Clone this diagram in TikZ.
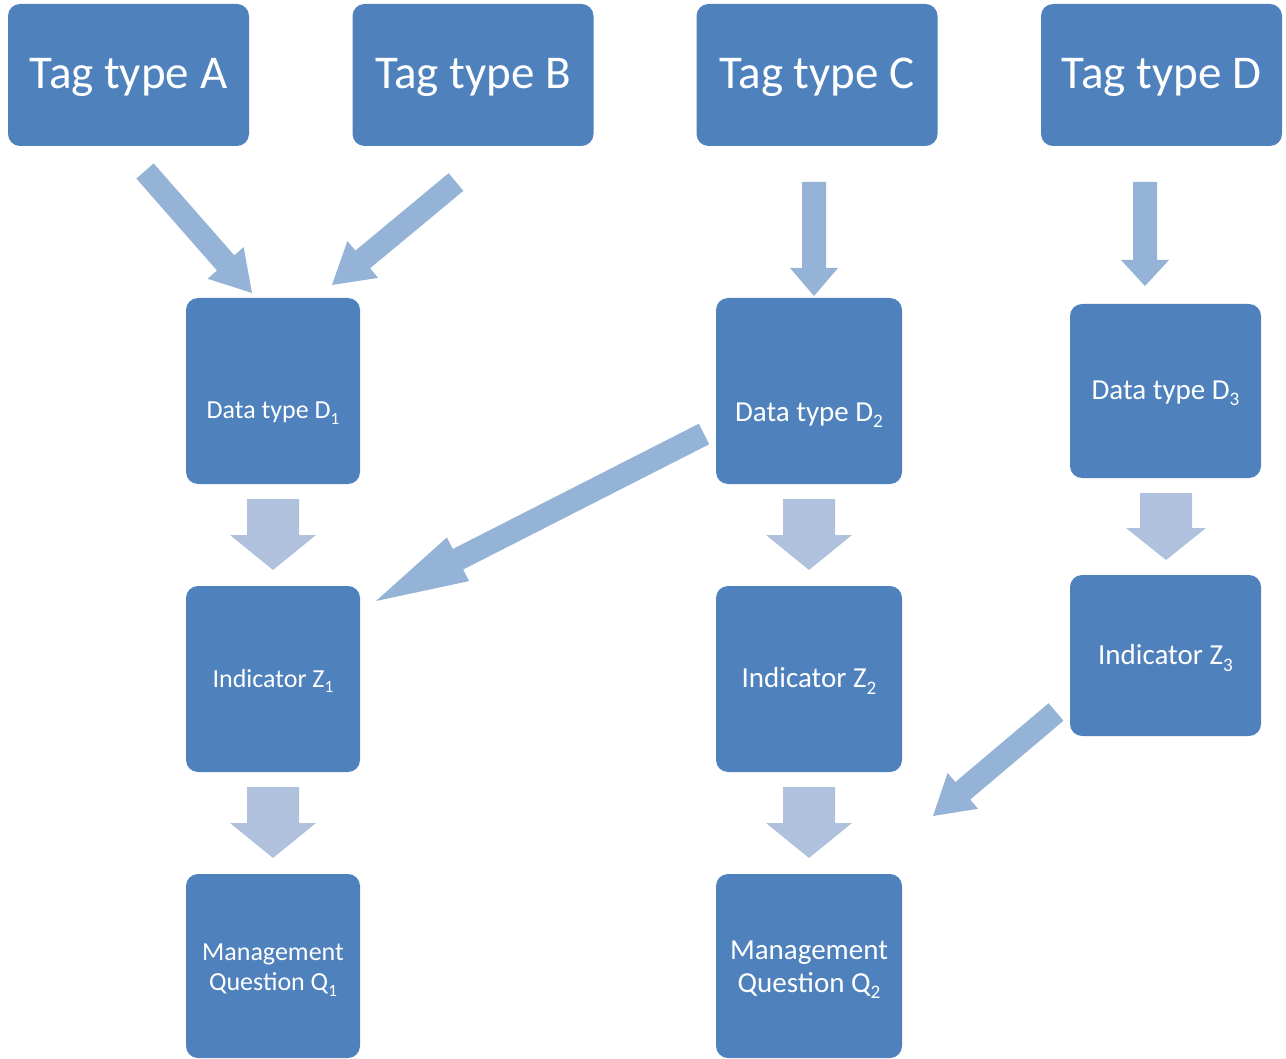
\documentclass[tikz,border=0pt]{standalone}
\usepackage{fontspec}
\setmainfont{Carlito}
\usetikzlibrary{calc}
\definecolor{boxblue}{HTML}{4F81BD}
\definecolor{thinarr}{HTML}{95B3D7}
\definecolor{blockarr}{HTML}{B0C1DE}
\newcommand\subs[1]{\raisebox{-0.22em}{\scalebox{0.66}{#1}}}
\newcommand\fatarrow[7]{%
  \coordinate (#7b) at ($(#3)!#6!(#2)$);
  \fill[#1] ($(#2)!#4!90:(#3)$) -- ($(#7b)!#4!90:(#3)$) -- ($(#7b)!#5!90:(#3)$) -- (#3)
    -- ($(#7b)!#5!-90:(#3)$) -- ($(#7b)!#4!-90:(#3)$) -- ($(#2)!#4!-90:(#3)$) -- cycle;}
\begin{document}
\begin{tikzpicture}[x=1pt,y=-1pt,
  bx/.style={rectangle, rounded corners=12pt, fill=boxblue, inner sep=0pt},
  tx/.style={text=white, inner sep=0pt, align=center},
  tagtx/.style={tx, font=\fontsize{47}{50}\selectfont},
  smtx/.style={tx, font=\fontsize{26}{30}\selectfont},
  bgtx/.style={tx, font=\fontsize{29}{33}\selectfont},
  tagbox/.style={bx, minimum width=241pt, minimum height=142pt},
  colA/.style={bx, minimum width=174pt, minimum height=186pt},
  colB/.style={bx, minimum width=186pt, minimum height=186pt},
]
\useasboundingbox (0,0) rectangle (1286,1059);
% tag boxes
\node[tagbox] (tA) at (128.5,75) {};
\node[tagbox] (tB) at (473,75) {};
\node[tagbox] (tC) at (817,75) {};
\node[tagbox] (tD) at (1161.5,75) {};
\node[tagtx] (tAt) at (128.5,77) {Tag type A};
\node[tagtx] (tBt) at (473,77) {Tag type B};
\node[tagtx] (tCt) at (817,77) {Tag type C};
\node[tagtx] (tDt) at (1161.5,77) {Tag type D};
% column 1
\node[colA] (d1) at (273,391) {};
\node[colA] (z1) at (273,679) {};
\node[colA, minimum height=184pt] (q1) at (273,966) {};
\node[smtx] (d1t) at (273,413) {Data type D\subs{1}};
\node[smtx] (z1t) at (273,681) {Indicator Z\subs{1}};
\node[smtx] (q1t) at (273,970) {Management\\Question Q\subs{1}};
% column 2
\node[colB] (d2) at (809,391) {};
\node[colB] (z2) at (809,679) {};
\node[colB, minimum height=184pt] (q2) at (809,966) {};
\node[bgtx] (d2t) at (809,415) {Data type D\subs{2}};
\node[bgtx] (z2t) at (809,681) {Indicator Z\subs{2}};
\node[bgtx] (q2t) at (809,970) {Management\\Question Q\subs{2}};
% column 3
\node[bx, minimum width=191pt, minimum height=174pt] (d3) at (1165.5,391) {};
\node[bx, minimum width=191pt, minimum height=161pt] (z3) at (1165.5,655.5) {};
\node[bgtx] (d3t) at (1165.5,393) {Data type D\subs{3}};
\node[bgtx] (z3t) at (1165.5,658) {Indicator Z\subs{3}};
% thin arrows
\coordinate (aS) at (145,171); \coordinate (aT) at (252,293);
\coordinate (bS) at (456,182); \coordinate (bT) at (332,285);
\coordinate (cS) at (814,182); \coordinate (cT) at (814,296);
\coordinate (dS) at (1145,182); \coordinate (dT) at (1145,286);
\coordinate (eS) at (704,434); \coordinate (eT) at (376,601);
\coordinate (fS) at (1056,712); \coordinate (fT) at (933,816);
\fatarrow{thinarr}{aS}{aT}{11.5pt}{24pt}{40pt}{a}
\fatarrow{thinarr}{bS}{bT}{11.5pt}{24pt}{40pt}{b}
\fatarrow{thinarr}{cS}{cT}{12pt}{24pt}{28pt}{c}
\fatarrow{thinarr}{dS}{dT}{12pt}{24pt}{26pt}{d}
\fatarrow{thinarr}{eS}{eT}{11.5pt}{24.5pt}{92pt}{e}
\fatarrow{thinarr}{fS}{fT}{11.5pt}{23.5pt}{39pt}{f}
% block arrows
\coordinate (gS) at (273,499); \coordinate (gT) at (273,570);
\coordinate (hS) at (273,787); \coordinate (hT) at (273,858);
\coordinate (iS) at (809,499); \coordinate (iT) at (809,570);
\coordinate (jS) at (809,787); \coordinate (jT) at (809,858);
\coordinate (kS) at (1166,493); \coordinate (kT) at (1166,560);
\fatarrow{blockarr}{gS}{gT}{26pt}{43pt}{35pt}{g}
\fatarrow{blockarr}{hS}{hT}{26pt}{43pt}{35pt}{h}
\fatarrow{blockarr}{iS}{iT}{26pt}{43pt}{35pt}{i}
\fatarrow{blockarr}{jS}{jT}{26pt}{43pt}{35pt}{j}
\fatarrow{blockarr}{kS}{kT}{26pt}{40pt}{32pt}{k}
\end{tikzpicture}
\end{document}
